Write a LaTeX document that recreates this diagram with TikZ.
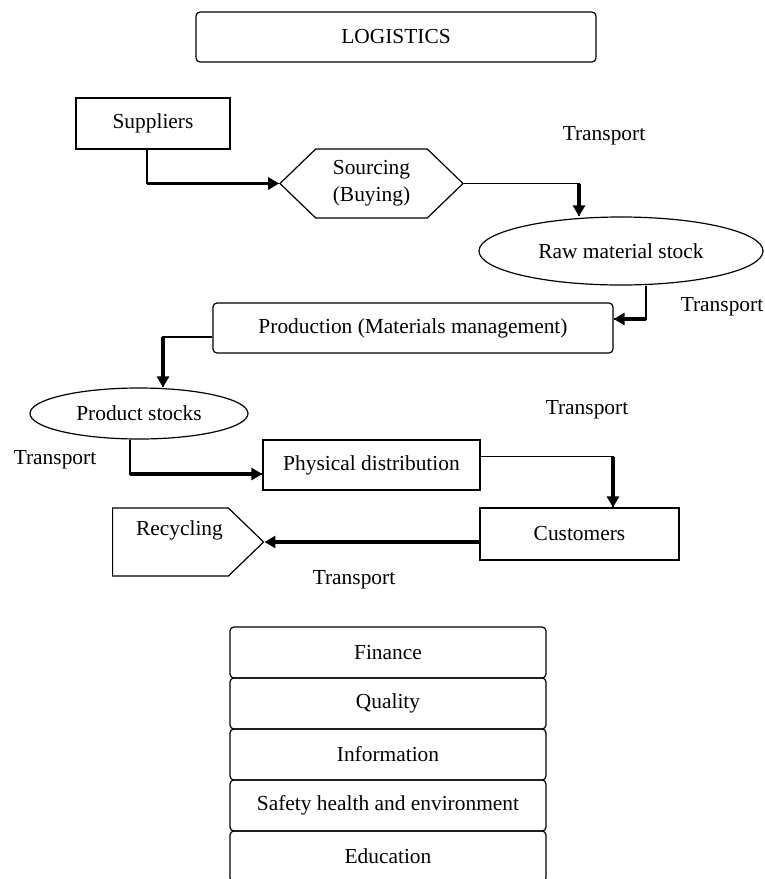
\documentclass[tikz,border=0pt]{standalone}
\usepackage{fontspec}
\setmainfont{Liberation Serif}
\usetikzlibrary{arrows.meta,positioning,shapes.geometric,shapes.symbols}

\begin{document}
\begin{tikzpicture}[x=0.5pt,y=-0.5pt,
    every node/.style={font=\fontsize{10.7}{13.5}\selectfont},
    box/.style={draw,line width=0.6pt,inner sep=0pt},
    roundbox/.style={box,rounded corners=2pt},
    stockoval/.style={box,ellipse},
    pointbox/.style={box,signal,signal pointer angle=88,align=center},
    thinline/.style={line width=0.6pt},
    flow/.style={line width=1.6pt,-{Triangle[length=5.5pt,width=6pt]}}]
    \useasboundingbox (0,0) rectangle (765,879);

    % Heading
    \node[roundbox,minimum width=200pt,minimum height=25pt] (logistics) at (396,37) {LOGISTICS};

    % Flow of goods
    \node[box,minimum width=77pt,minimum height=25.5pt] (suppliers) at (153,123.5) {Suppliers};
    \node[pointbox,signal to=west and east,minimum width=91.5pt,minimum height=34.5pt] (sourcing) at (371.5,183.5) {Sourcing\\(Buying)};
    \node[stockoval,minimum width=142pt,minimum height=34pt] (raw) at (621,251) {Raw material stock};
    \node[roundbox,minimum width=200pt,minimum height=25pt] (production) at (413,328) {Production (Materials management)};
    \node[stockoval,minimum width=109pt,minimum height=25.5pt] (products) at (139,413.5) {Product stocks};
    \node[box,minimum width=108.5pt,minimum height=25pt] (physical) at (371.5,465) {Physical distribution};
    \node[box,minimum width=99.5pt,minimum height=26pt] (customers) at (579.5,534) {Customers};
    \node[pointbox,signal to=east,minimum width=75.5pt,minimum height=34pt] (recycling) at (170.5,542) {\hspace*{9pt}Recycling\\\mbox{}};

    % Transport labels
    \node (tsourcing) at (604,136) {Transport};
    \node (traw) at (722,307) {Transport};
    \node (tphysical) at (587,410) {Transport};
    \node (tproducts) at (55,460) {Transport};
    \node (trecycling) at (354,580) {Transport};

    % Connectors
    \draw[thinline] ([xshift=-3pt]suppliers.south) |- (sourcing.west);
    \draw[flow] ([xshift=-3pt]suppliers.south |- sourcing.west) -- (sourcing.west);

    \draw[thinline] (sourcing.east) -| ([xshift=-21pt]raw.north);
    \draw[flow] ([xshift=-21pt]raw.north |- sourcing.east) -- ([xshift=-21pt]raw.north);

    \draw[thinline] ([xshift=12.5pt]raw.south) |- ([yshift=4.5pt]production.east);
    \draw[flow] ([xshift=12.5pt,yshift=4.5pt]raw.south |- production.east) -- ([yshift=4.5pt]production.east);

    \draw[thinline] ([yshift=-4.5pt]production.west) -| ([xshift=12pt]products.north);
    \draw[flow] ([xshift=12pt,yshift=-4.5pt]products.north |- production.west) -- ([xshift=12pt]products.north);

    \draw[thinline] ([xshift=-4.5pt]products.south) |- ([yshift=-4.5pt]physical.west);
    \draw[flow] ([xshift=-4.5pt,yshift=-4.5pt]products.south |- physical.west) -- ([yshift=-4.5pt]physical.west);

    \draw[thinline] ([yshift=4.25pt]physical.east) -| ([xshift=16.75pt]customers.north);
    \draw[flow] ([xshift=16.75pt,yshift=4.25pt]customers.north |- physical.east) -- ([xshift=16.75pt]customers.north);

    \draw[flow] (recycling.east -| customers.west) -- (recycling.east);

    % Support functions
    \foreach \name/\txt [count=\i] in {finance/Finance,quality/Quality,information/Information,safety/Safety health and environment,education/Education}
        \node[roundbox,minimum width=158pt,minimum height=25.5pt] (\name) at (388,601.5+51*\i) {\txt};
\end{tikzpicture}
\end{document}
